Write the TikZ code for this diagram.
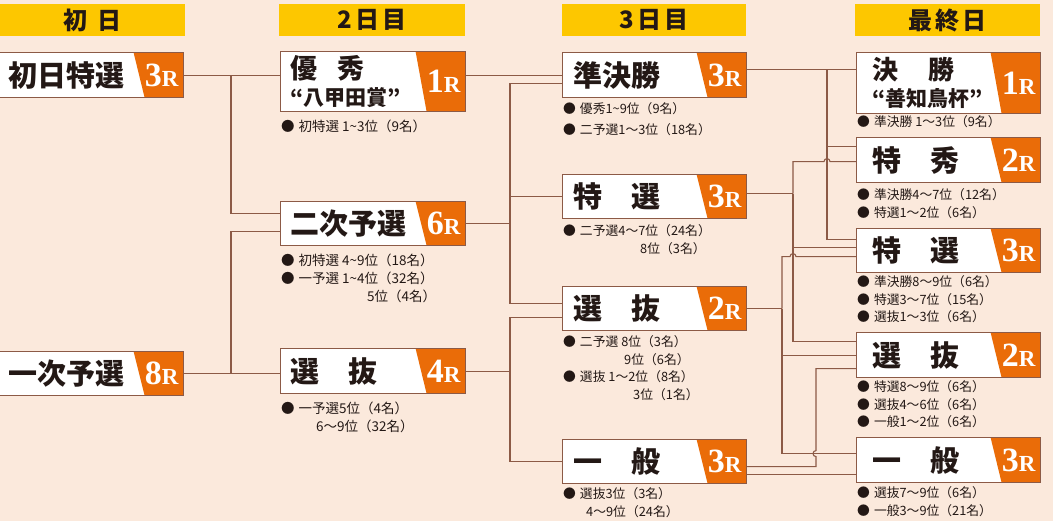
\documentclass[tikz,border=0pt]{standalone}
\usepackage{fontspec}
\setmainfont{Noto Sans CJK JP}
\newfontfamily\numfont{Liberation Serif}
\usetikzlibrary{positioning}

\definecolor{bgpeach}{RGB}{251,233,220}
\definecolor{dayyellow}{RGB}{253,199,0}
\definecolor{raceorange}{RGB}{234,108,8}
\definecolor{linebrown}{RGB}{140,90,70}
\definecolor{inkdark}{RGB}{35,24,21}

\newcommand{\rnum}[1]{{\numfont\bfseries\fontsize{34}{34}\selectfont #1\fontsize{23}{23}\selectfont R}}
\newcommand{\race}[3][11pt]{\hspace*{#1}\parbox[c]{118pt}{#2}\hfill\parbox[c]{44pt}{\centering\color{white}\rnum{#3}}}

\tikzset{
  dayhead/.style ={fill=dayyellow, anchor=north west, inner sep=0pt, minimum width=185pt,
                   minimum height=32pt, text=inkdark, font=\bfseries\fontsize{24}{24}\selectfont},
  racebox/.style ={draw=linebrown, line width=1.2pt, fill=white, anchor=north west, inner sep=0pt,
                   text width=184pt, minimum height=45pt, text=inkdark,
                   font=\bfseries\fontsize{29}{32}\selectfont,
                   path picture={\fill[raceorange] ([xshift=-50pt]path picture bounding box.north east)
                     -- (path picture bounding box.north east) -- (path picture bounding box.south east)
                     -- ([xshift=-39pt]path picture bounding box.south east) -- cycle;}},
  info/.style    ={anchor=north west, inner sep=0pt, align=left, text=inkdark,
                   font=\fontsize{12.8}{17.5}\selectfont},
  wire/.style    ={draw=linebrown, line width=1.1pt}
}

\begin{document}
\begin{tikzpicture}[x=1pt,y=-1pt]
 \useasboundingbox (0,0) rectangle (1053,521);
 \fill[bgpeach] (0,0) rectangle (1053,521);
 \clip (0,0) rectangle (1053,521);

 % day headers
 \node[dayhead] (hd1) at (0,4) {初\hspace{10pt}日};
 \node[dayhead, minimum width=186pt] (hd2) at (279,4) {2\hspace{3pt}日\hspace{3pt}目};
 \node[dayhead, minimum width=184pt] (hd3) at (562,4) {3\hspace{3pt}日\hspace{3pt}目};
 \node[dayhead] (hd4) at (855,4) {最\hspace{3pt}終\hspace{3pt}日};

 % day 1
 \node[racebox, text width=191pt] (d1toku) at (-8,52) {\race[16pt]{初日特選}{3}};
 \node[racebox, text width=191pt, minimum height=44pt] (d1yosen) at (-8,351) {\race[16pt]{一次予選}{8}};

 % day 2
 \node[racebox, text width=185pt, minimum height=60pt] (d2yushu) at (280,51)
   {\race[10pt]{\fontsize{27}{27}\selectfont 優\hspace{0.75em}秀\\ \fontsize{21}{27}\selectfont “八甲田賞”}{1}};
 \node[racebox, text width=185pt, minimum height=44pt] (d2yosen) at (280,201) {\race[10pt]{二次予選}{6}};
 \node[racebox, text width=185pt] (d2senbatsu) at (280,348) {\race[10pt]{選　抜}{4}};

 % day 3
 \node[racebox] (d3junkessho) at (562,52) {\race{準決勝}{3}};
 \node[racebox, minimum height=44pt] (d3tokusen) at (562,174) {\race{特　選}{3}};
 \node[racebox, minimum height=44pt] (d3senbatsu) at (562,286) {\race{選　抜}{2}};
 \node[racebox, minimum height=44pt] (d3ippan) at (562,439) {\race{一　般}{3}};

 % final day
 \node[racebox, minimum height=61pt] (d4kessho) at (856,52)
   {\race[16pt]{\fontsize{26}{26}\selectfont 決\hspace{1.15em}勝\\ \fontsize{21}{27}\selectfont “善知鳥杯”}{1}};
 \node[racebox] (d4tokushu) at (856,137) {\race[16pt]{特　秀}{2}};
 \node[racebox, minimum height=44pt] (d4tokusen) at (856,228) {\race[16pt]{特　選}{3}};
 \node[racebox] (d4senbatsu) at (856,332) {\race[16pt]{選　抜}{2}};
 \node[racebox] (d4ippan) at (856,437) {\race[16pt]{一　般}{3}};

 % who goes where
 \node[info, font=\fontsize{13.5}{18}\selectfont] (i2yushu) at ([xshift=1pt,yshift=-7.5pt]d2yushu.south west)
   {●\hspace{4pt}初特選 1\textasciitilde3位（9名）};
 \node[info, font=\fontsize{13.5}{18}\selectfont] (i2yosen) at ([xshift=1pt,yshift=-7.5pt]d2yosen.south west)
   {●\hspace{4pt}初特選 4\textasciitilde9位（18名）\\ ●\hspace{4pt}一予選 1\textasciitilde4位（32名）\\ \hspace*{86pt}5位（4名）};
 \node[info, font=\fontsize{13.5}{18}\selectfont] (i2senbatsu) at ([xshift=1pt,yshift=-7.5pt]d2senbatsu.south west)
   {●\hspace{4pt}一予選5位（4名）\\ \hspace*{35pt}6～9位（32名）};
 \node[info] (i3junkessho) at ([xshift=1pt,yshift=-4.5pt]d3junkessho.south west)
   {●\hspace{4pt}優秀1\textasciitilde9位（9名）\\[3pt] ●\hspace{4pt}二予選1～3位（18名）};
 \node[info] (i3tokusen) at ([xshift=1pt,yshift=-5.5pt]d3tokusen.south west)
   {●\hspace{4pt}二予選4～7位（24名）\\ \hspace*{77pt}8位（3名）};
 \node[info] (i3senbatsu) at ([xshift=1pt,yshift=-4.5pt]d3senbatsu.south west)
   {●\hspace{4pt}二予選 8位（3名）\\ \hspace*{61pt}9位（6名）\\ ●\hspace{4pt}選抜 1～2位（8名）\\ \hspace*{70pt}3位（1名）};
 \node[info] (i3ippan) at ([xshift=1pt,yshift=-3.5pt]d3ippan.south west)
   {●\hspace{4pt}選抜3位（3名）\\ \hspace*{23pt}4～9位（24名）};
 \node[info] (i4kessho) at ([xshift=1pt,yshift=-1.5pt]d4kessho.south west)
   {●\hspace{4pt}準決勝 1～3位（9名）};
 \node[info] (i4tokushu) at ([xshift=1pt,yshift=-5.5pt]d4tokushu.south west)
   {●\hspace{4pt}準決勝4～7位（12名）\\ ●\hspace{4pt}特選1～2位（6名）};
 \node[info] (i4tokusen) at ([xshift=1pt,yshift=-2.5pt]d4tokusen.south west)
   {●\hspace{4pt}準決勝8～9位（6名）\\ ●\hspace{4pt}特選3～7位（15名）\\ ●\hspace{4pt}選抜1～3位（6名）};
 \node[info] (i4senbatsu) at ([xshift=1pt,yshift=-2.5pt]d4senbatsu.south west)
   {●\hspace{4pt}特選8～9位（6名）\\ ●\hspace{4pt}選抜4～6位（6名）\\ ●\hspace{4pt}一般1～2位（6名）};
 \node[info] (i4ippan) at ([xshift=1pt,yshift=-3.5pt]d4ippan.south west)
   {●\hspace{4pt}選抜7～9位（6名）\\ ●\hspace{4pt}一般3～9位（21名）};

 % bus lines
 \coordinate (ja) at (231,0);
 \coordinate (jb) at (510,0);
 \coordinate (jc) at (827,0);
 \coordinate (jd) at (793,0);
 \coordinate (je) at (782,0);
 \coordinate (jf) at (816,0);

 \begin{scope}[every path/.style=wire]
   \path (d1toku.east) -- (d2yushu.west |- d1toku.east);
   \path (ja |- d1toku.east) |- ([yshift=10.5pt]d2yosen.west);
   \path (d1yosen.east) -- (d2senbatsu.west |- d1yosen.east);
   \path (ja |- d1yosen.east) |- ([yshift=-7.5pt]d2yosen.west);

   \path (d2yushu.east |- d3junkessho.west) -- (d3junkessho.west);
   \path (d2yosen.east) -- (jb |- d2yosen.east);
   \path ([yshift=-8.5pt]d3junkessho.west) -| (jb |- d2yosen.east) |- ([yshift=5pt]d3senbatsu.west);
   \path (jb |- d3tokusen.west) -- (d3tokusen.west);
   \path (d2senbatsu.east) -- (jb |- d2senbatsu.east);
   \path ([yshift=-9pt]d3senbatsu.west) -| (jb |- d2senbatsu.east) |- (d3ippan.west);

   \path ([yshift=5.5pt]d3junkessho.east) coordinate (o3a) -- (d4kessho.west |- o3a);
   \path ([yshift=13.5pt]d4tokushu.west) -| (jc |- o3a);
   \path ([yshift=11pt]d4tokusen.west) -| (jc |- o3a);

   \path ([yshift=3pt]d3tokusen.east) coordinate (o3b) -- (jd |- o3b);
   \path ([yshift=-1.5pt]d4tokushu.west) coordinate (i4b) -- ([xshift=3pt]jc |- i4b)
     arc[start angle=0, end angle=180, radius=3pt] -| (jd |- o3b);
   \path ([yshift=3pt]d4tokusen.west) -| (jd |- o3b);
   \path ([yshift=13.5pt]d4senbatsu.west) -| (jd |- o3b);

   \path (d3senbatsu.east) -- (je |- d3senbatsu.east);
   \path ([yshift=-6pt]d4tokusen.west) coordinate (i4c) -- ([xshift=3pt]jd |- i4c)
     arc[start angle=0, end angle=180, radius=3pt] -| (je |- d3senbatsu.east);
   \path (d4senbatsu.west) -| (je |- d3senbatsu.east);
   \path ([yshift=6.5pt]d4ippan.west) coordinate (i4d) -| (je |- d3senbatsu.east);

   \path ([yshift=-5pt]d3ippan.east) coordinate (o3d) -- (jf |- o3d) -- ([yshift=-3pt]jf |- i4d)
     arc[start angle=-90, end angle=-270, radius=3pt] |- ([yshift=-13.5pt]d4senbatsu.west);
   \path ([yshift=-13pt]d3ippan.east) coordinate (o3e) -- (d4ippan.west |- o3e);
 \end{scope}
\end{tikzpicture}
\end{document}
